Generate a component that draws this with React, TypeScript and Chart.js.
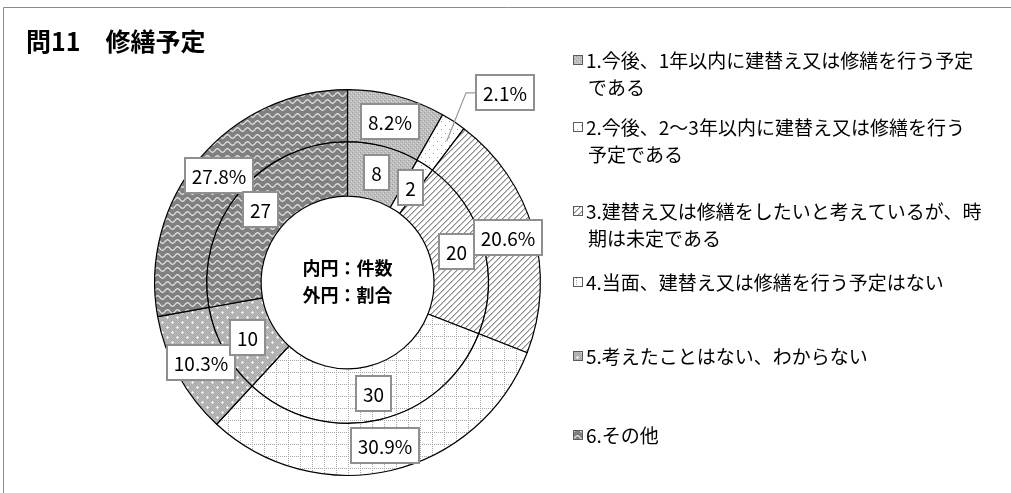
import React, { useEffect, useRef } from "react";
import { Chart, registerables } from "chart.js";
Chart.register(...registerables);

// ---- data ----
const categories: string[][] = [
  ["1.今後、1年以内に建替え又は修繕を行う予定", "である"],
  ["2.今後、2～3年以内に建替え又は修繕を行う", "予定である"],
  ["3.建替え又は修繕をしたいと考えているが、時", "期は未定である"],
  ["4.当面、建替え又は修繕を行う予定はない"],
  ["5.考えたことはない、わからない"],
  ["6.その他"],
];
const counts = [8, 2, 20, 30, 10, 27];
const shares = [8.2, 2.1, 20.6, 30.9, 10.3, 27.8];
const titleText = "問11　修繕予定";
const centerLines = ["内円：件数", "外円：割合"];

const W = 1011;
const H = 493;
const FONT = '"Noto Sans CJK JP", "Noto Sans", sans-serif';

function tile(w: number, h: number, bg: string, draw: (g: CanvasRenderingContext2D) => void): HTMLCanvasElement {
  const c = document.createElement("canvas");
  c.width = w;
  c.height = h;
  const g = c.getContext("2d")!;
  g.fillStyle = bg;
  g.fillRect(0, 0, w, h);
  draw(g);
  return c;
}

function px(g: CanvasRenderingContext2D, x: number, y: number, col: string) {
  g.fillStyle = col;
  g.fillRect(x, y, 1, 1);
}

function makeTiles(): HTMLCanvasElement[] {
  const t1 = tile(4, 4, "#bdbdbd", (g) => {
    px(g, 0, 0, "#a0a0a0");
    px(g, 2, 2, "#a0a0a0");
    px(g, 1, 3, "#dcdcdc");
    px(g, 3, 1, "#dcdcdc");
  });
  const t2 = tile(8, 8, "#ffffff", (g) => {
    px(g, 1, 1, "#9a9a9a");
    px(g, 5, 5, "#9a9a9a");
  });
  const t3 = tile(6, 6, "#ffffff", (g) => {
    for (let y = 0; y < 6; y++)
      for (let x = 0; x < 6; x++) {
        const k = (x + y) % 6;
        if (k === 0) px(g, x, y, "#8a8a8a");
        else if (k === 1) px(g, x, y, "#c8c8c8");
      }
  });
  const t4 = tile(12, 12, "#ffffff", (g) => {
    for (let i = 0; i < 12; i += 2) {
      px(g, 0, i, "#a8a8a8");
      px(g, i, 0, "#a8a8a8");
    }
  });
  const t5 = tile(10, 10, "#a8a8a8", (g) => {
    for (let y = 0; y < 10; y++)
      for (let x = 0; x < 10; x++) if ((x + y) % 2 === 0) px(g, x, y, "#bcbcbc");
    const dots = [
      [2, 2],
      [7, 7],
    ];
    for (const [x, y] of dots) {
      px(g, x, y, "#ffffff");
      px(g, x - 1, y, "#e8e8e8");
      px(g, x + 1, y, "#e8e8e8");
      px(g, x, y - 1, "#e8e8e8");
      px(g, x, y + 1, "#e8e8e8");
    }
  });
  const t6 = tile(10, 7, "#808080", (g) => {
    g.strokeStyle = "#e4e4e4";
    g.lineWidth = 1.2;
    for (const off of [-7, 0, 7]) {
      g.beginPath();
      for (let x = -1; x <= 11; x += 0.5) {
        const y = 3.5 + off + 1.8 * Math.sin((2 * Math.PI * x) / 10);
        if (x === -1) g.moveTo(x, y);
        else g.lineTo(x, y);
      }
      g.stroke();
    }
  });
  return [t1, t2, t3, t4, t5, t6];
}

export default function App() {
  const ref = useRef<HTMLCanvasElement | null>(null);

  useEffect(() => {
    const canvas = ref.current!;
    const ctx0 = canvas.getContext("2d")!;
    const tiles = makeTiles();
    const patterns = tiles.map((t) => ctx0.createPattern(t, "repeat")!);
    const LABEL_FONT = `19px ${FONT}`;

    const drawBox = (ctx: CanvasRenderingContext2D, text: string, cx: number, cy: number) => {
      ctx.font = LABEL_FONT;
      const w = Math.round(ctx.measureText(text).width + 14);
      const h = 35;
      const x = Math.round(cx - w / 2);
      const y = Math.round(cy - h / 2);
      ctx.fillStyle = "#ffffff";
      ctx.fillRect(x, y, w, h);
      ctx.strokeStyle = "#8f8f8f";
      ctx.lineWidth = 2;
      ctx.strokeRect(x, y, w, h);
      ctx.fillStyle = "#000000";
      ctx.textAlign = "center";
      ctx.textBaseline = "middle";
      ctx.fillText(text, x + w / 2, y + h / 2 + 1);
    };

    const overlay = {
      id: "overlay",
      beforeDraw(chart: any) {
        const ctx: CanvasRenderingContext2D = chart.ctx;
        ctx.save();
        ctx.fillStyle = "#ffffff";
        ctx.fillRect(0, 0, W, H);
        ctx.strokeStyle = "#8c8c8c";
        ctx.lineWidth = 1;
        ctx.beginPath();
        ctx.moveTo(3.5, H);
        ctx.lineTo(3.5, 7.5);
        ctx.lineTo(W, 7.5);
        ctx.stroke();
        ctx.restore();
      },
      afterDatasetsDraw(chart: any) {
        const ctx: CanvasRenderingContext2D = chart.ctx;
        ctx.save();
        chart.data.datasets.forEach((ds: any, di: number) => {
          const meta = chart.getDatasetMeta(di);
          meta.data.forEach((arc: any, i: number) => {
            const p = arc.getProps(["x", "y", "startAngle", "endAngle", "innerRadius", "outerRadius"], true);
            const mid = (p.startAngle + p.endAngle) / 2;
            const rMid = (p.innerRadius + p.outerRadius) / 2;
            const v = ds.data[i];
            const text = di === 0 ? `${v.toFixed(1)}%` : `${v}`;
            if (di === 0 && v < 3) {
              const a = mid + 0.11;
              const r = p.outerRadius * 1.277;
              const bx = p.x + r * Math.cos(a);
              const by = p.y + r * Math.sin(a);
              ctx.font = LABEL_FONT;
              const bw = Math.round(ctx.measureText(text).width + 14);
              const left = Math.round(bx - bw / 2);
              const ex = p.x + (rMid + 6) * Math.cos(mid + 0.03);
              const ey = p.y + (rMid + 6) * Math.sin(mid + 0.03);
              ctx.strokeStyle = "#9a9a9a";
              ctx.lineWidth = 1.2;
              ctx.beginPath();
              ctx.moveTo(left, by);
              ctx.lineTo(left - 10, by);
              ctx.lineTo(ex, ey);
              ctx.stroke();
              drawBox(ctx, text, bx, by);
            } else {
              drawBox(ctx, text, p.x + rMid * Math.cos(mid), p.y + rMid * Math.sin(mid));
            }
          });
        });
        ctx.restore();
      },
      afterDraw(chart: any) {
        const ctx: CanvasRenderingContext2D = chart.ctx;
        ctx.save();
        ctx.fillStyle = "#000000";
        ctx.textAlign = "left";
        ctx.textBaseline = "middle";
        ctx.font = `bold 25px ${FONT}`;
        ctx.fillText(titleText, 26, 41);
        const meta = chart.getDatasetMeta(0);
        const c = meta.data[0];
        ctx.textAlign = "center";
        ctx.font = `bold 18px ${FONT}`;
        ctx.fillText(centerLines[0], c.x, c.y - 14);
        ctx.fillText(centerLines[1], c.x, c.y + 13);
        const itemY = [60, 127, 211, 282, 356, 435];
        const lineH = 27;
        ctx.textAlign = "left";
        ctx.font = `19px ${FONT}`;
        categories.forEach((lines, i) => {
          const y0 = itemY[i];
          const sx = 573;
          const sy = Math.round(y0 - 5);
          ctx.fillStyle = patterns[i];
          ctx.fillRect(sx, sy, 10, 10);
          ctx.strokeStyle = "#5a5a5a";
          ctx.lineWidth = 1;
          ctx.strokeRect(sx + 0.5, sy + 0.5, 9, 9);
          ctx.fillStyle = "#000000";
          lines.forEach((ln, j) => {
            ctx.fillText(ln, j === 0 ? 586 : 588, y0 + j * lineH + 1);
          });
        });
        ctx.restore();
      },
    };

    const chart = new Chart(canvas, {
      type: "doughnut",
      data: {
        labels: categories.map((l) => l.join("")),
        datasets: [
          {
            data: shares,
            backgroundColor: patterns as any,
            borderColor: "#000000",
            borderWidth: 1.2,
            weight: 52,
          } as any,
          {
            data: counts,
            backgroundColor: patterns as any,
            borderColor: "#000000",
            borderWidth: 1.2,
            weight: 54.5,
          } as any,
        ],
      },
      options: {
        responsive: false,
        animation: false,
        devicePixelRatio: 1,
        events: [],
        cutout: "44.8%",
        layout: { padding: { left: 154, top: 89, right: W - 541, bottom: H - 476 } },
        plugins: {
          legend: { display: false },
          tooltip: { enabled: false },
          title: { display: false },
        },
      },
      plugins: [overlay],
    });
    return () => chart.destroy();
  }, []);

  return (
    <div style={{ position: "fixed", left: 0, top: 0, width: W, height: H, background: "#fff" }}>
      <canvas ref={ref} width={W} height={H} style={{ display: "block", width: W, height: H }} />
    </div>
  );
}
